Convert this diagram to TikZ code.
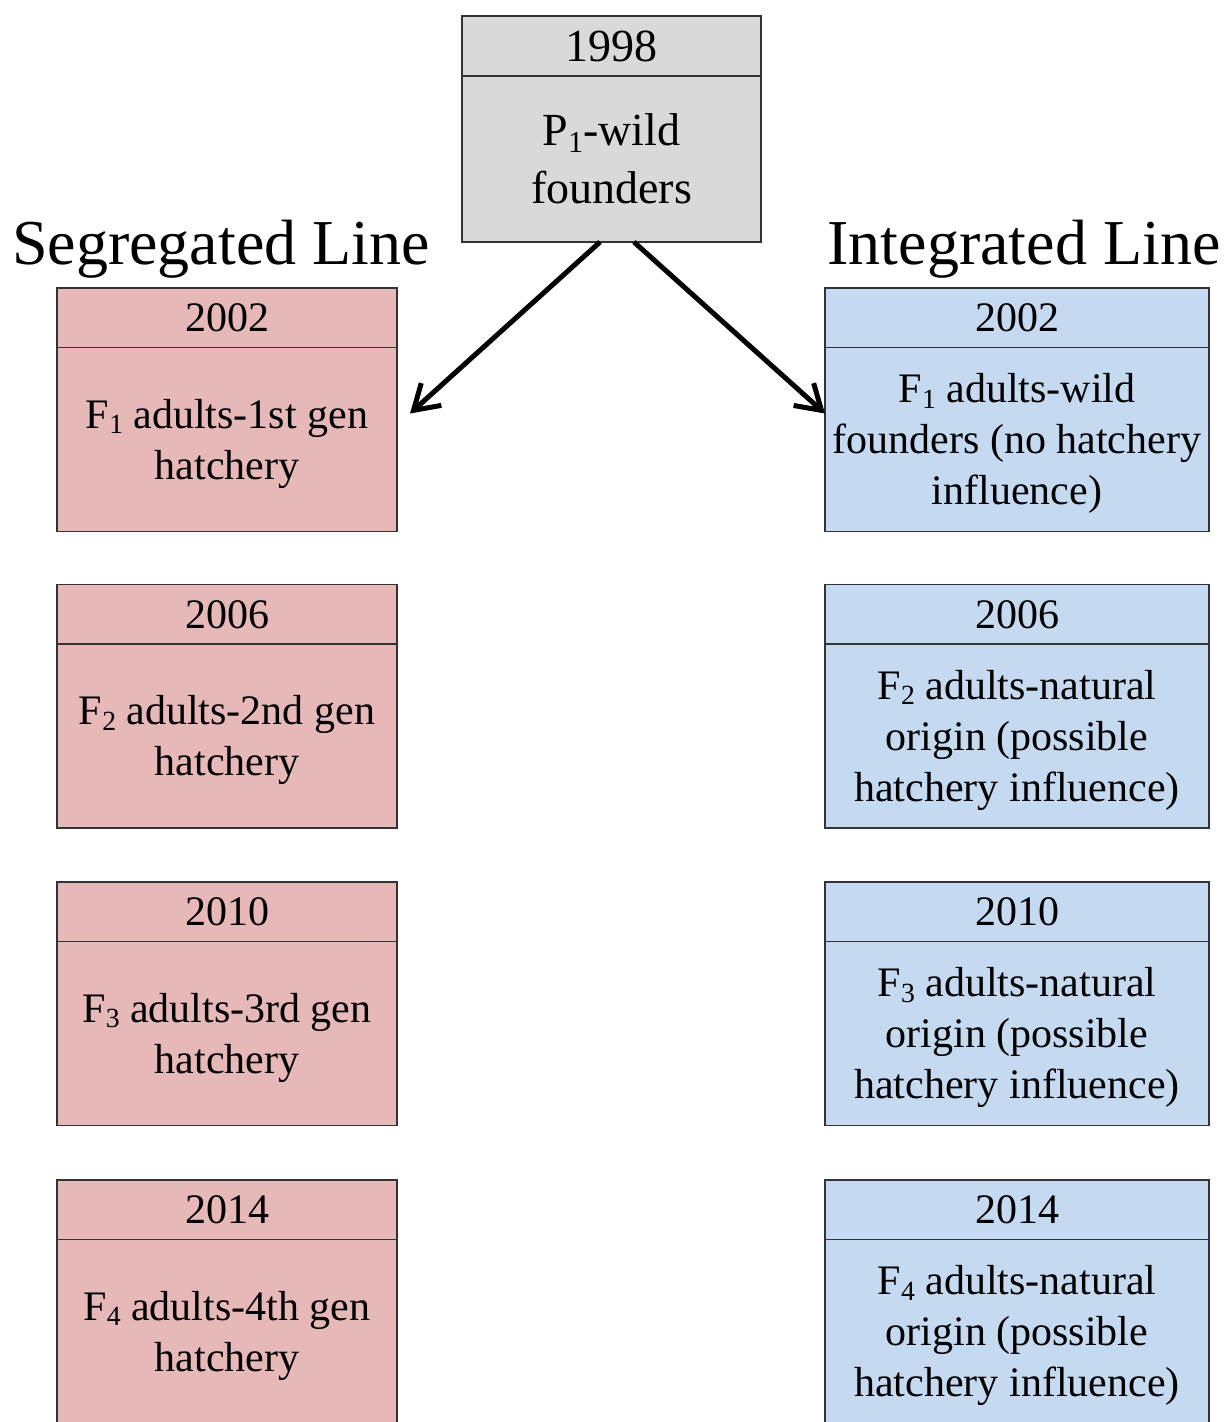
\documentclass[tikz,border=0pt]{standalone}
\usepackage{fontspec}
\usepackage{graphicx}
\setmainfont{Liberation Serif}
\usetikzlibrary{arrows.meta}

\definecolor{segfill}{HTML}{E6B8B7}
\definecolor{intfill}{HTML}{C5D9F1}
\definecolor{rootfill}{HTML}{D9D9D9}
\definecolor{edgegray}{HTML}{333333}

\tikzset{
  cell/.style={draw=edgegray, line width=1.3pt, rectangle, inner sep=0pt, outer sep=0pt,
    align=center, font=\fontsize{42}{51}\selectfont},
  segcell/.style={cell, fill=segfill, minimum width=340pt},
  intcell/.style={cell, fill=intfill, minimum width=384pt},
  headcell/.style={minimum height=59.5pt},
  bodycell/.style={minimum height=184pt},
  bodytext/.style={align=center, inner sep=0pt, font=\fontsize{42}{51}\selectfont},
  linetitle/.style={anchor=base, font=\fontsize{64}{70}\selectfont},
  flow/.style={line width=5pt, -{Straight Barb[length=24pt, width=30pt, line width=5pt]}}
}

% small, slightly lowered index digit
\newcommand{\sub}[1]{\raisebox{-0.14em}{\scalebox{0.66}{#1}}}

\begin{document}
\begin{tikzpicture}[x=1pt, y=-1pt]
\clip (0,0) rectangle (1225,1422);
\fill[white] (0,0) rectangle (1225,1422);

% founding generation
\node[cell, fill=rootfill, minimum width=299pt, minimum height=60pt,
      font=\fontsize{46}{58}\selectfont] (rooty) at (611.5,46) {1998};
\node[cell, fill=rootfill, minimum width=299pt, minimum height=166pt,
      font=\fontsize{46}{58}\selectfont, anchor=north] (rootb) at (rooty.south) {P\sub{1}-wild\\founders};

% column titles
\node[linetitle] (segtitle) at (221,264) {Segregated Line};
\node[linetitle] (inttitle) at (1024,264) {Integrated Line};

% segregated line: year cells and description cells
\node[segcell, headcell] (s1y) at (227,317.75) {2002};
\node[segcell, bodycell, anchor=north] (s1b) at (s1y.south) {};
\node[segcell, headcell] (s2y) at (227,614.25) {2006};
\node[segcell, bodycell, anchor=north] (s2b) at (s2y.south) {};
\node[segcell, headcell] (s3y) at (227,911.75) {2010};
\node[segcell, bodycell, anchor=north] (s3b) at (s3y.south) {};
\node[segcell, headcell] (s4y) at (227,1209.75) {2014};
\node[segcell, bodycell, anchor=north] (s4b) at (s4y.south) {};

\node[bodytext] (s1t) at ([yshift=-4pt]s1b.center) {F\sub{1} adults-1st gen\\hatchery};
\node[bodytext] (s2t) at ([yshift=-4pt]s2b.center) {F\sub{2} adults-2nd gen\\hatchery};
\node[bodytext] (s3t) at ([yshift=-4pt]s3b.center) {F\sub{3} adults-3rd gen\\hatchery};
\node[bodytext] (s4t) at ([yshift=-4pt]s4b.center) {F\sub{4} adults-4th gen\\hatchery};

% integrated line: year cells and description cells
\node[intcell, headcell] (i1y) at (1017,317.75) {2002};
\node[intcell, bodycell, anchor=north] (i1b) at (i1y.south) {};
\node[intcell, headcell] (i2y) at (1017,614.25) {2006};
\node[intcell, bodycell, anchor=north] (i2b) at (i2y.south) {};
\node[intcell, headcell] (i3y) at (1017,911.75) {2010};
\node[intcell, bodycell, anchor=north] (i3b) at (i3y.south) {};
\node[intcell, headcell] (i4y) at (1017,1209.75) {2014};
\node[intcell, bodycell, anchor=north] (i4b) at (i4y.south) {};

\node[bodytext] (i1t) at ([yshift=-4pt]i1b.center) {F\sub{1} adults-wild\\founders (no hatchery\\influence)};
\node[bodytext] (i2t) at ([yshift=-4pt]i2b.center) {F\sub{2} adults-natural\\origin (possible\\hatchery influence)};
\node[bodytext] (i3t) at ([yshift=-4pt]i3b.center) {F\sub{3} adults-natural\\origin (possible\\hatchery influence)};
\node[bodytext] (i4t) at ([yshift=-4pt]i4b.center) {F\sub{4} adults-natural\\origin (possible\\hatchery influence)};

% founders split into the two lines
\draw[flow] ([xshift=-11.5pt]rootb.south) -- ([xshift=13pt, yshift=26pt]s1b.east);
\draw[flow] ([xshift=22.5pt]rootb.south) -- ([yshift=26pt]i1b.west);
\end{tikzpicture}
\end{document}
